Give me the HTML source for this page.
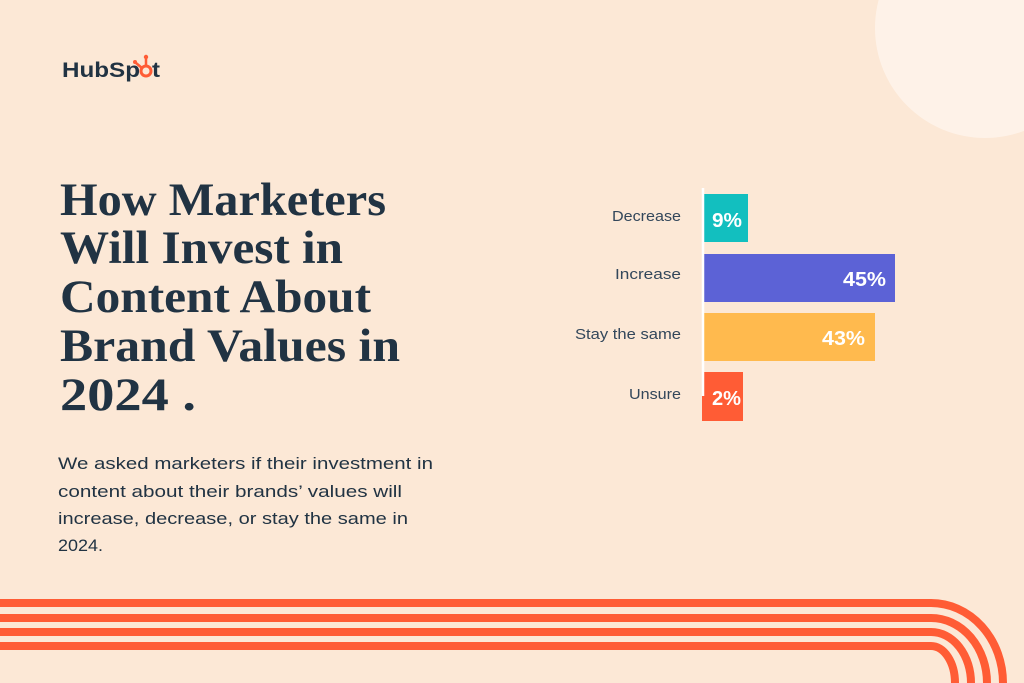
<!DOCTYPE html>
<html><head><meta charset="utf-8"><style>
html,body{margin:0;padding:0;background:#FCE8D6;}
svg{display:block}
</style></head><body>
<svg width="1024" height="683" viewBox="0 0 1024 683" xmlns="http://www.w3.org/2000/svg">
<rect width="1024" height="683" fill="#FCE8D6"/>
<circle cx="985" cy="28" r="110" fill="#FEF2E8"/>
<!-- logo -->
<g font-family="Liberation Sans, sans-serif" font-weight="bold" font-size="21" fill="#213343">
<text x="62" y="77" textLength="78" lengthAdjust="spacingAndGlyphs">HubSp</text>
<circle cx="146" cy="71" r="5" fill="none" stroke="#FF5C35" stroke-width="3"/>
<line x1="146" y1="66" x2="146" y2="58" stroke="#FF5C35" stroke-width="2.5"/>
<circle cx="146" cy="57" r="2.2" fill="#FF5C35"/>
<line x1="142" y1="68" x2="136" y2="63" stroke="#FF5C35" stroke-width="2.5"/>
<circle cx="135" cy="62" r="2" fill="#FF5C35"/>
<text x="152" y="77" textLength="8" lengthAdjust="spacingAndGlyphs">t</text>
</g>
<!-- title -->
<g font-family="Liberation Serif, serif" font-weight="bold" font-size="47" fill="#213343">
<text x="60" y="215" textLength="326" lengthAdjust="spacingAndGlyphs">How Marketers</text>
<text x="60" y="263" textLength="283" lengthAdjust="spacingAndGlyphs">Will Invest in</text>
<text x="60" y="312" textLength="311" lengthAdjust="spacingAndGlyphs">Content About</text>
<text x="60" y="361" textLength="340" lengthAdjust="spacingAndGlyphs">Brand Values in</text>
<text x="60" y="410" textLength="136" lengthAdjust="spacingAndGlyphs">2024 .</text>
</g>
<!-- paragraph -->
<g font-family="Liberation Sans, sans-serif" font-size="17" fill="#213343">
<text x="58" y="469" textLength="375" lengthAdjust="spacingAndGlyphs">We asked marketers if their investment in</text>
<text x="58" y="497" textLength="344" lengthAdjust="spacingAndGlyphs">content about their brands’ values will</text>
<text x="58" y="524" textLength="350" lengthAdjust="spacingAndGlyphs">increase, decrease, or stay the same in</text>
<text x="58" y="551" textLength="45" lengthAdjust="spacingAndGlyphs">2024.</text>
</g>
<!-- bars -->
<rect x="704" y="194" width="44" height="48" fill="#12BFBF"/>
<rect x="704" y="254" width="191" height="48" fill="#5C62D6"/>
<rect x="704" y="313" width="171" height="48" fill="#FFBA4E"/>
<rect x="702" y="372" width="41" height="49" fill="#FF5C35"/>
<line x1="703" y1="188" x2="703" y2="396" stroke="#FFFFFF" stroke-width="2.5"/>
<g font-family="Liberation Sans, sans-serif" font-size="15" fill="#33475B" text-anchor="end">
<text x="681" y="221" textLength="69" lengthAdjust="spacingAndGlyphs">Decrease</text>
<text x="681" y="279" textLength="66" lengthAdjust="spacingAndGlyphs">Increase</text>
<text x="681" y="339" textLength="106" lengthAdjust="spacingAndGlyphs">Stay the same</text>
<text x="681" y="399" textLength="52" lengthAdjust="spacingAndGlyphs">Unsure</text>
</g>
<g font-family="Liberation Sans, sans-serif" font-weight="bold" font-size="20" fill="#FFFFFF">
<text x="712" y="227" textLength="30" lengthAdjust="spacingAndGlyphs">9%</text>
<text x="886" y="286" text-anchor="end" textLength="43" lengthAdjust="spacingAndGlyphs">45%</text>
<text x="865" y="345" text-anchor="end" textLength="43" lengthAdjust="spacingAndGlyphs">43%</text>
<text x="712" y="405" textLength="29" lengthAdjust="spacingAndGlyphs">2%</text>
</g>
<!-- stripes -->
<g fill="none" stroke="#FF5C35" stroke-width="8">
<path d="M0 603 H931 A72 80 0 0 1 1003 683 V700"/>
<path d="M0 618 H931 A56 65 0 0 1 987 683 V700"/>
<path d="M0 632 H931 A40 51 0 0 1 971 683 V700"/>
<path d="M0 646 H931 A24 37 0 0 1 955 683 V700"/>
</g>
</svg>
</body></html>
